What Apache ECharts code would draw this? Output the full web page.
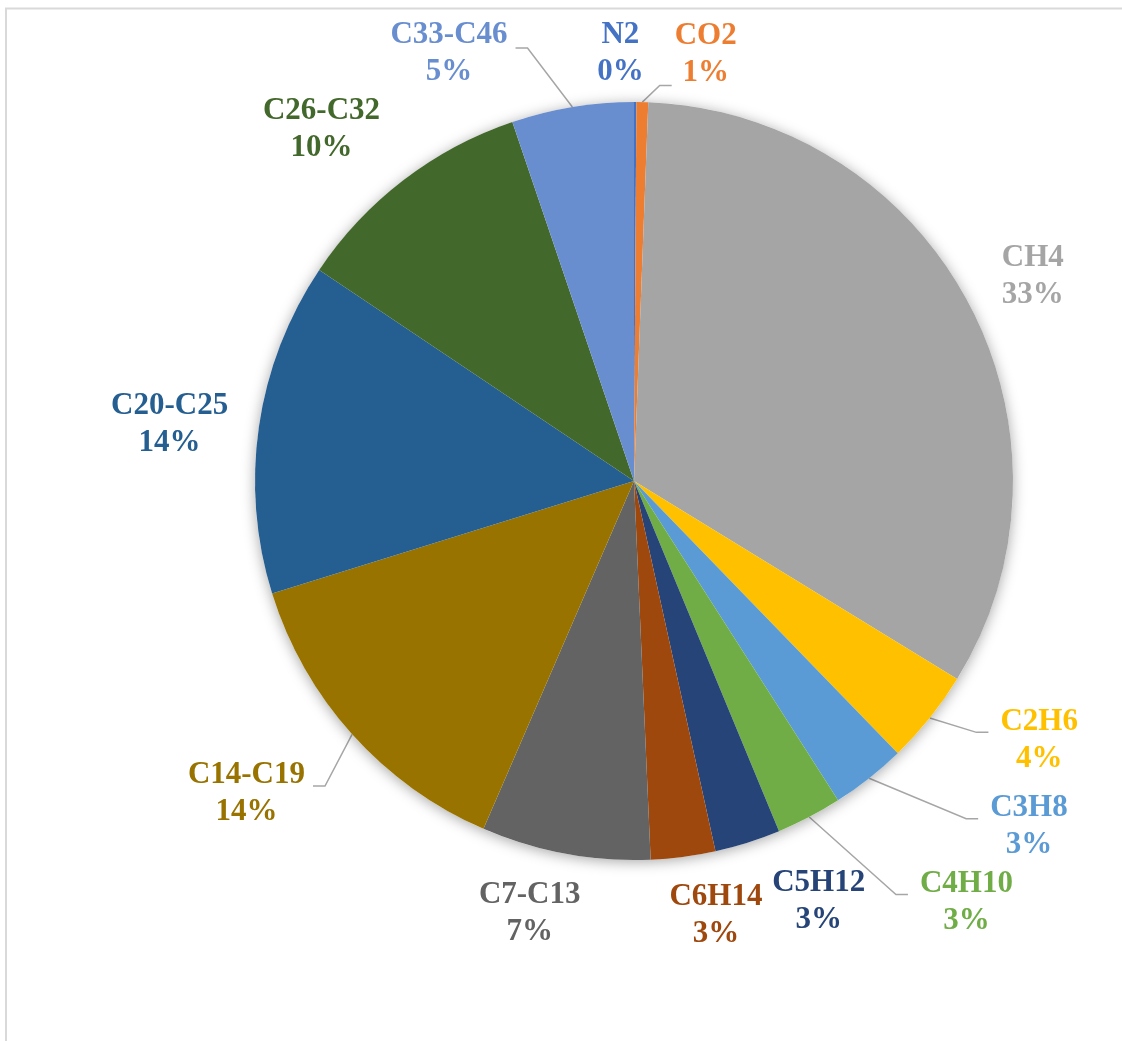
<!DOCTYPE html>
<html>
<head>
<meta charset="utf-8">
<script src="https://cdn.jsdelivr.net/npm/echarts@6/dist/echarts.min.js"></script>
<style>
  html, body { margin: 0; background: #fff; }
  #container { width: 1122px; height: 1041px; }
</style>
</head>
<body>
<div id="container"></div>
<script>
// gas composition (percent)
const names = ['N2', 'CO2', 'CH4', 'C2H6', 'C3H8', 'C4H10', 'C5H12', 'C6H14', 'C7-C13', 'C14-C19', 'C20-C25', 'C26-C32', 'C33-C46'];
const values = [0.1, 0.5, 33.15, 4, 3.2, 2.8, 2.8, 2.75, 7.2, 13.7, 14.2, 10.4, 5.2];

const palette = ['#4472c4', '#ed7d31', '#a5a5a5', '#ffc000', '#5b9bd5', '#70ad47', '#264478', '#9e480e', '#636363', '#997300', '#255e91', '#43682b', '#698ed0'];

const cx = 634, cy = 481, R = 379;

// excel "best fit" moved some labels around, nudge them the same way
const nudge = {
  'N2': [-15, 13], 'CO2': [62, 14], 'CH4': [4, 7], 'C2H6': [49, -26],
  'C3H8': [112, -12], 'C4H10': [121, 16], 'C5H12': [49, -11], 'C6H14': [24, -7],
  'C7-C13': [-23, -9], 'C14-C19': [-37, -2], 'C20-C25': [-3, 11],
  'C26-C32': [-28, 20], 'C33-C46': [-112, 16]
};
// labels that get a leader line (attach offset / gap to text)
const leaders = {
  'CO2': { dy: 31, gap: 3 },
  'C2H6': { dy: -8, gap: 12 },
  'C3H8': { dy: -8, gap: 12 },
  'C4H10': { dy: -8, gap: 12 },
  'C14-C19': { dy: -8, gap: 8 },
  'C33-C46': { dy: -6, gap: 8 }
};

const total = values.reduce((a, b) => a + b, 0);
const midAngle = [];
let acc = 0;
values.forEach(v => {
  midAngle.push((acc + v / 2) / total * 2 * Math.PI);
  acc += v;
});

function pct(i) {
  // toFixed first so 0.49999999 from float sums still rounds like excel
  return Math.round(+(values[i] * 100 / total).toFixed(6));
}

const chart = echarts.init(document.getElementById('container'));

const option = {
  animation: false,
  graphic: [{
    type: 'polyline',
    silent: true,
    shape: { points: [[6, 1041], [6, 8.5], [1122, 8.5]] },
    style: { stroke: '#d9d9d9', lineWidth: 2, fill: null }
  }],
  series: [
    {
      // just the soft shadow under the pie
      type: 'pie',
      silent: true,
      center: [cx, cy],
      radius: R,
      label: { show: false },
      labelLine: { show: false },
      emphasis: { disabled: true },
      data: [{
        value: 1,
        itemStyle: { color: '#ffffff', shadowBlur: 14, shadowOffsetY: 2, shadowColor: 'rgba(0,0,0,0.35)' }
      }]
    },
    {
      type: 'pie',
      center: [cx, cy],
      radius: R,
      startAngle: 90,
      clockwise: true,
      avoidLabelOverlap: false,
      emphasis: { disabled: true },
      itemStyle: { borderWidth: 0 },
      label: {
        show: true,
        position: 'outside',
        fontFamily: '"Liberation Serif", "Times New Roman", serif',
        fontWeight: 'bold',
        fontSize: 31,
        lineHeight: 37,
        formatter: p => p.name + '\n' + pct(p.dataIndex) + '%'
      },
      labelLine: { show: false, lineStyle: { color: '#a6a6a6', width: 1.5 } },
      labelLayout: function (p) {
        const i = p.dataIndex;
        const a = midAngle[i];
        const ux = Math.sin(a), uy = -Math.cos(a);
        const w = p.labelRect.width / 2, h = p.labelRect.height / 2;
        const d = R + 24 + Math.abs(ux) * w + Math.abs(uy) * h;
        const n = nudge[names[i]] || [0, 0];
        const x = cx + ux * d + n[0];
        const y = cy + uy * d + n[1];
        const out = { x: x, y: y, align: 'center', verticalAlign: 'middle' };
        const ld = leaders[names[i]];
        if (ld) {
          const p0 = [cx + ux * R, cy + uy * R];
          const s = x > p0[0] ? 1 : -1;
          const p2 = [x - s * (w + ld.gap), y + ld.dy];
          const p1 = [p2[0] - s * 12, p2[1]];
          out.labelLinePoints = [p0, p1, p2];
        }
        return out;
      },
      data: names.map((n, i) => ({
        name: n,
        value: values[i],
        itemStyle: { color: palette[i] },
        label: { color: palette[i] },
        labelLine: { show: !!leaders[n] }
      }))
    }
  ]
};

chart.setOption(option);
</script>
</body>
</html>
